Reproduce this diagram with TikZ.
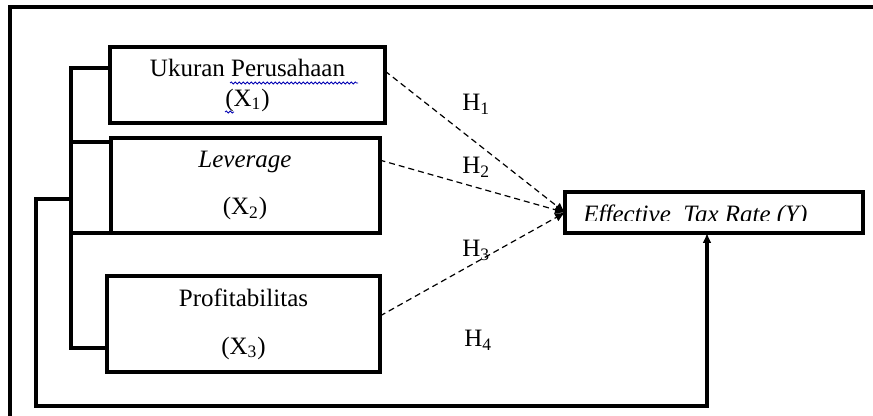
\documentclass[tikz,border=0pt]{standalone}
\usepackage{fontspec}
\setmainfont{Liberation Serif}
\usetikzlibrary{arrows.meta,decorations.pathmorphing}

\tikzset{
  box/.style={draw, line width=2pt, inner sep=0pt, outer sep=0pt, align=center, font=\fontsize{12.5}{15}\selectfont},
  bracket/.style={line width=1.7pt},
  hypo/.style={line width=0.6pt, dash pattern=on 3pt off 2pt, -{Latex[length=5pt,width=4.5pt]}},
  hlabel/.style={anchor=base west, inner sep=0pt, font=\fontsize{12.5}{14}\selectfont},
}

\begin{document}
\begin{tikzpicture}[x=0.5pt,y=-0.5pt]
	\useasboundingbox (0,0) rectangle (873,416);
	
	% frame
	\draw[line width=2pt] (10,416) -- (10,7) -- (873,7);
	
	% variabel
	\node[box, minimum width=137.5pt, minimum height=38pt] (x1) at (247.5,85) {Ukuran Perusahaan\\(X\textsubscript{1})};
	\node[box, minimum width=134.5pt, minimum height=47.5pt] (x2) at (245,185.5) {\textit{Leverage}\\[8.5pt](X\textsubscript{2})};
	\node[box, minimum width=136.5pt, minimum height=48pt] (x3) at (243.5,324) {Profitabilitas\\[9pt](X\textsubscript{3})};
	\node[box, minimum width=149pt, minimum height=20.5pt] (y) at (714,212.5) {};
	
	% text Y (unten abgeschnitten)
	\begin{scope}
		\clip (565,192) rectangle (863,221);
		\node[anchor=base west, inner sep=0pt, font=\fontsize{12.5}{14}\selectfont\itshape] (ytext) at (583,223) {Effective\ \ Tax Rate (Y)};
	\end{scope}
	
	% spell check
	\draw[blue!70!black, line width=0.4pt, decorate, decoration={snake, amplitude=0.5pt, segment length=2pt}] (230,83) -- (358,83);
	\draw[blue!70!black, line width=0.4pt, decorate, decoration={snake, amplitude=0.5pt, segment length=2pt}] (225,112) -- (234,112);
	
	% klammer
	\coordinate (k1) at (71,68);
	\coordinate (k2) at (71,142);
	\coordinate (k3) at (71,233);
	\coordinate (k4) at (71,348);
	\draw[bracket] (x1.west |- k1) -- (k1) -- (k4) -- (x3.west |- k4);
	\draw[bracket] (k2) -- (x2.west |- k2);
	\draw[bracket] (k3) -- (x2.west |- k3);
	
	% H4
	\coordinate (k5) at (71,199);
	\coordinate (l1) at (36,199);
	\coordinate (l2) at (36,406);
	\draw[bracket, -{Latex[length=5pt,width=4.5pt]}] (k5) -- (l1) -- (l2) -| ([xshift=-3.5pt]y.south);
	
	% H1 - H3
	\draw[hypo] ([yshift=7pt]x1.east) -- (y.west);
	\draw[hypo] ([yshift=12.75pt]x2.east) -- (y.west);
	\draw[hypo] ([yshift=4pt]x3.east) -- (y.west);
	
	% labels
	\node[hlabel] (h1) at (462,111) {H\textsubscript{1}};
	\node[hlabel] (h2) at (462,174) {H\textsubscript{2}};
	\node[hlabel] (h3) at (462,257) {H\textsubscript{3}};
	\node[hlabel] (h4) at (464,347) {H\textsubscript{4}};
	
\end{tikzpicture}
\end{document}
